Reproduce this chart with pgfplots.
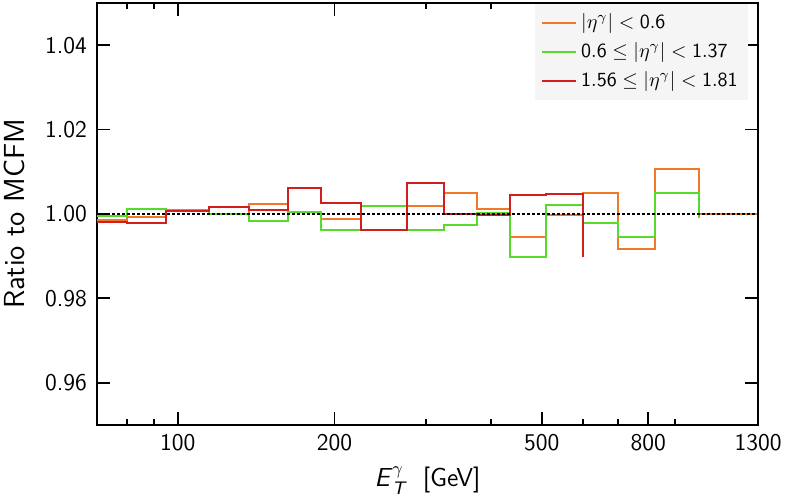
\documentclass[border=0pt]{standalone}
\usepackage{amsmath}
\usepackage{pgfplots}
\pgfplotsset{compat=1.18}
\definecolor{corange}{RGB}{240,120,40}
\definecolor{cgreen}{RGB}{85,220,40}
\definecolor{cred}{RGB}{210,30,30}
\begin{document}
\begin{tikzpicture}
\begin{axis}[
  scale only axis, width=330.5pt, height=211pt,
  xmode=log, xmin=70, xmax=1300, ymin=0.95, ymax=1.05,
  xtick={100,200,500,800,1300}, xticklabels={100,200,500,800,1300},
  minor xtick={80,90,300,400,600,700,900},
  ytick={0.96,0.98,1.00,1.02,1.04},
  /pgf/number format/fixed, /pgf/number format/fixed zerofill,
  /pgf/number format/precision=2, /pgf/number format/assume math mode=true,
  tick align=inside, major tick length=6.5pt, minor tick length=3pt,
  tick style={black, line width=0.9pt},
  axis line style={line width=1.3pt},
  ticklabel style={font=\fontsize{12}{14}\selectfont\sffamily},
  xticklabel style={yshift=-1pt},
  yticklabel style={xshift=-1.5pt},
  xlabel={\textsl{E}$_{\textsl{T}}^{\gamma}$\ \ [GeV]},
  xlabel style={at={(axis description cs:0.5,-0.146)}, anchor=base, font=\fontsize{13}{15}\selectfont\sffamily},
  ylabel={Ratio to MCFM},
  ylabel style={at={(axis description cs:-0.109,0.5)}, anchor=base, font=\fontsize{14.5}{17}\selectfont\sffamily},
  legend style={at={(0.985,0.770)}, anchor=south east, fill=black!4, draw=none,
    font=\fontsize{10}{12}\selectfont\sffamily, row sep=1.5pt, inner xsep=3pt, inner ysep=3pt},
  legend cell align=left,
]
\addplot[const plot, corange, line width=1pt] coordinates {
 (70,0.9986) (80,0.9993) (95,1.0009) (115,1.0000) (137,1.0024) (163,1.0005)
 (188,0.9987) (225,1.0019) (275,1.0018) (325,1.0050) (375,1.0013) (435,0.9946)
 (510,0.9997) (600,1.0049) (700,0.9917) (825,1.0106) (1000,1.0001) (1300,1.0001)};
\addlegendentry{$|\eta^{\gamma}| < \mathsf{0.6}$}
\addplot[const plot, cgreen, line width=1pt] coordinates {
 (70,0.9996) (80,1.0012) (95,1.0006) (115,1.0000) (137,0.9984) (163,1.0004)
 (188,0.9961) (225,1.0019) (275,0.9961) (325,0.9973) (375,1.0003) (435,0.9898)
 (510,1.0021) (600,0.9978) (700,0.9945) (825,1.0050) (1000,0.9991)};
\addlegendentry{$\mathsf{0.6} \leq |\eta^{\gamma}| < \mathsf{1.37}$}
\addplot[const plot, cred, line width=1pt] coordinates {
 (70,0.9982) (80,0.9978) (95,1.0007) (115,1.0016) (137,1.0010) (163,1.0061)
 (188,1.0025) (225,0.9961) (275,1.0074) (325,1.0000) (375,0.9998) (435,1.0045)
 (510,1.0047) (600,0.9898)};
\addlegendentry{$\mathsf{1.56} \leq |\eta^{\gamma}| < \mathsf{1.81}$}
\addplot[black, line width=0.9pt, dash pattern=on 1.5pt off 1pt, forget plot] coordinates {(70,1) (1300,1)};
\end{axis}
\pgfresetboundingbox
\path ([shift={(-48.5pt,-35.5pt)}]current axis.south west) rectangle ([shift={(14pt,1.5pt)}]current axis.north east);
\end{tikzpicture}
\end{document}
